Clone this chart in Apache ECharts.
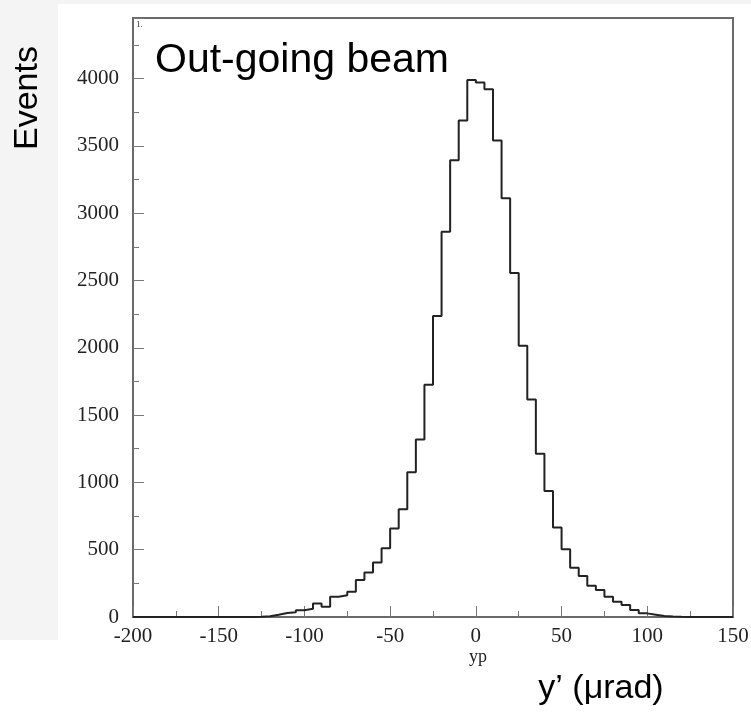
<!DOCTYPE html>
<html>
<head>
<meta charset="utf-8">
<script src="https://cdn.jsdelivr.net/npm/echarts@6/dist/echarts.min.js"></script>
<style>
  html, body { margin: 0; padding: 0; background: #fff; }
  #main { width: 751px; height: 714px; }
</style>
</head>
<body>
<div id="main"></div>
<script>
// histogram binning (yp, 5 urad bins from -200 to 150)
var binLow = -200;
var binWidth = 5;
// events per bin
var counts = [
  0, 0, 0, 0, 0, 0, 0, 0, 0, 0, 0, 0, 0, 0,
  1, 5, 16, 30, 35, 50, 62, 100, 76, 150,
  162, 188, 274, 331, 405, 511, 657, 800, 1076, 1318,
  1726, 2237, 2862, 3393, 3689, 3990, 3970, 3920, 3540, 3110,
  2556, 2015, 1615, 1212, 936, 664, 504, 365, 304, 232,
  200, 150, 113, 89, 52, 27, 17, 7, 3, 1,
  0, 0, 0, 0, 0, 0
];
var xTicks = [-200, -150, -100, -50, 0, 50, 100, 150];
var yTicks = [0, 500, 1000, 1500, 2000, 2500, 3000, 3500, 4000];

// step points at bin edges
var points = [];
counts.forEach(function (c, i) {
  points.push([binLow + i * binWidth, c]);
});
points.push([binLow + counts.length * binWidth, 0]);

var chart = echarts.init(document.getElementById('main'));
var serif = '"Liberation Serif", "DejaVu Serif", serif';
var sans = '"Liberation Sans", Arial, sans-serif';

var option = {
  backgroundColor: '#fff',
  animation: false,
  grid: {
    left: 133, right: 18, top: 18, bottom: 97,
    show: true, borderColor: '#6a6a6a', borderWidth: 2,
    backgroundColor: 'transparent',
    outerBoundsMode: 'none'
  },
  graphic: [
    { type: 'rect', z: -10, shape: { x: 0, y: 0, width: 58, height: 640 }, style: { fill: '#f4f4f4' } },
    { type: 'rect', z: -10, shape: { x: 0, y: 0, width: 751, height: 4 }, style: { fill: '#f4f4f4' } },
    { type: 'text', left: 136, top: 20, style: { text: '1.', font: '9px ' + serif, fill: '#333' } },
    { type: 'text', x: 155, y: 61, style: { text: 'Out-going beam', font: '41px ' + sans, fill: '#000', verticalAlign: 'middle' } },
    { type: 'text', x: 28, y: 98, rotation: Math.PI / 2,
      style: { text: 'Events', font: '34px ' + sans, fill: '#000', align: 'center', verticalAlign: 'middle' } },
    { type: 'text', x: 478, y: 657,
      style: { text: 'yp', font: '18px ' + serif, fill: '#222', align: 'center', verticalAlign: 'middle' } },
    { type: 'text', x: 601, y: 689,
      style: { text: 'y\u2019 (\u03bcrad)', font: '34px ' + sans, fill: '#000', align: 'center', verticalAlign: 'middle' } }
  ],
  xAxis: {
    type: 'value',
    min: xTicks[0], max: xTicks[xTicks.length - 1], interval: 50,
    axisLine: { show: false, onZero: false },
    axisTick: { show: true, inside: true, length: 11, lineStyle: { color: '#777', width: 1 } },
    minorTick: { show: true, splitNumber: 2, length: 6, lineStyle: { color: '#777', width: 1 } },
    axisLabel: { fontFamily: serif, fontSize: 21, color: '#222', margin: 9, formatter: function (v) { return String(v); } },
    splitLine: { show: false }
  },
  yAxis: {
    type: 'value',
    min: yTicks[0], max: 4450, interval: 500,
    axisLine: { show: false, onZero: false },
    axisTick: { show: true, inside: true, length: 11, lineStyle: { color: '#777', width: 1 } },
    minorTick: { show: true, splitNumber: 2, length: 6, lineStyle: { color: '#777', width: 1 } },
    axisLabel: { fontFamily: serif, fontSize: 21, color: '#222', margin: 14, showMaxLabel: false,
      formatter: function (v) { return String(v); } },
    splitLine: { show: false }
  },
  series: [{
    type: 'line',
    step: 'end',
    data: points,
    showSymbol: false,
    lineStyle: { color: '#222', width: 2 },
    z: 3
  }]
};
chart.setOption(option);
</script>
</body>
</html>
